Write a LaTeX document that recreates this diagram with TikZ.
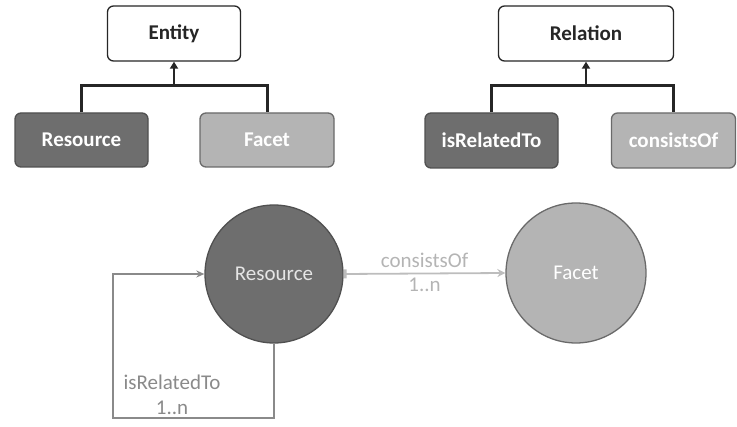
\documentclass[tikz,border=0pt]{standalone}
\usepackage{fontspec}
\setmainfont{Carlito}
\usetikzlibrary{arrows.meta}
\definecolor{darkfill}{HTML}{6E6E6E}
\definecolor{darkline}{HTML}{505050}
\definecolor{lightfill}{HTML}{B4B4B4}
\definecolor{lightline}{HTML}{6A6A6A}
\definecolor{looplinec}{HTML}{8A8A8A}
\definecolor{conline}{HTML}{BDBDBD}
\begin{document}
\begin{tikzpicture}[x=1pt,y=-1pt,
  every node/.style={font=\fontsize{21}{23}\selectfont},
  topbox/.style={draw=black!85,line width=1.3pt,fill=white,rounded corners=6pt,minimum height=55pt,inner sep=0pt,font=\fontsize{21}{23}\selectfont\bfseries,text=black!85},
  darkbox/.style={draw=darkline,line width=1.3pt,fill=darkfill,rounded corners=6pt,minimum height=54pt,inner sep=0pt,font=\fontsize{21}{23}\selectfont\bfseries,text=white},
  lightbox/.style={draw=lightline,line width=1.3pt,fill=lightfill,rounded corners=6pt,minimum height=54pt,inner sep=0pt,font=\fontsize{21}{23}\selectfont\bfseries,text=white},
  darkcirc/.style={circle,draw=darkline,line width=1.3pt,fill=darkfill,inner sep=0pt,text=white!90!black},
  lightcirc/.style={circle,draw=lightline,line width=1.3pt,fill=lightfill,inner sep=0pt,text=white},
  treeline/.style={line width=3pt,draw=black!85},
  treearrow/.style={line width=2pt,draw=black!85,-{Triangle[length=7pt,width=8pt]}},
  loopline/.style={line width=1.6pt,draw=looplinec,-{Stealth[length=8pt,width=7pt]}},
  conarrow/.style={line width=1.8pt,draw=conline,{Square[length=3pt,width=9pt]}-{Stealth[length=8pt,width=8pt]}},
  looplabel/.style={text=looplinec,align=center,inner sep=1pt},
  conlabel/.style={text=conline!95!black,inner sep=3pt}
]
\useasboundingbox (0,0) rectangle (737,427);

% hierarchy: Entity
\node[topbox,minimum width=133pt] (entity) at (174,33.5) {Entity};
\node[darkbox,minimum width=133pt] (resbox) at (81.5,140) {Resource};
\node[lightbox,minimum width=134pt] (facbox) at (267,140) {Facet};
\coordinate (ebar) at (174,86);
\draw[treeline] (resbox.north) |- (ebar) -| (facbox.north);
\draw[treearrow] (ebar) -- (entity.south);

% hierarchy: Relation
\node[topbox,minimum width=175pt] (relation) at (586,33.5) {Relation};
\node[darkbox,minimum width=133pt,minimum height=55pt] (relbox) at (491.5,140.5) {isRelatedTo};
\node[lightbox,minimum width=124pt,minimum height=55pt] (conbox) at (673.5,140.5) {consistsOf};
\coordinate (rbar) at (586,86);
\draw[treeline] (relbox.north) |- (rbar) -| (conbox.north);
\draw[treearrow] (rbar) -- (relation.south);

% instance diagram
\node[darkcirc,minimum size=138pt] (rescirc) at (274,274) {Resource};
\node[lightcirc,minimum size=140pt] (faccirc) at (576,273) {Facet};

\draw[conarrow] (rescirc.east) -- (faccirc.west)
  node[midway,above=2pt,conlabel] (conlab) {consistsOf}
  node[midway,below=1pt,conlabel] (conmult) {1..n};

\coordinate (loopcorner) at (113,418);
\draw[loopline] (rescirc.south) |- (loopcorner) |- (rescirc.west);
\node[looplabel] (isrel) at (172,382) {isRelatedTo};
\node[looplabel] (isrelmult) at (172,408) {1..n};
\end{tikzpicture}
\end{document}
